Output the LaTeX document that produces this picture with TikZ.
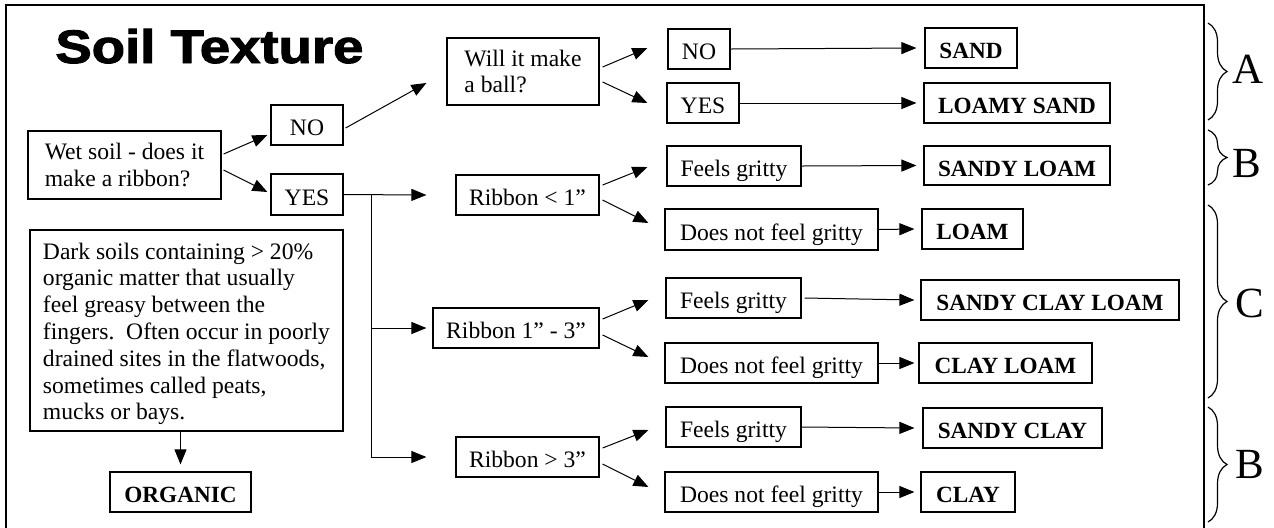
\documentclass[tikz,border=0pt]{standalone}
\usepackage{fontspec}
\usepackage{graphicx}
\setmainfont{Liberation Serif}
\newfontfamily\titlefont[FakeBold=2]{Liberation Sans}
\usetikzlibrary{arrows.meta,calc,decorations.pathreplacing}
\tikzset{
  box/.style={draw, line width=0.6pt, inner sep=0pt, font=\fontsize{11.8}{13.4}\selectfont},
  one/.style={text height=10.6pt, text depth=0pt},
  res/.style={draw, line width=0.6pt, inner sep=0pt, text height=10.6pt, text depth=0pt, font=\fontsize{11.6}{13.4}\selectfont\bfseries},
  sz/.style 2 args={minimum width=#1*0.5pt, minimum height=#2*0.5pt},
  arr/.style={line width=0.5pt, -{Triangle[length=7.5pt,width=6pt]}},
  brc/.style={decorate, decoration={brace, amplitude=9.5pt}, line width=0.6pt},
  big/.style={font=\fontsize{21.5}{24}\selectfont, anchor=base west, inner sep=0pt}
}
\begin{document}
\begin{tikzpicture}[x=0.5pt,y=-0.5pt]
\useasboundingbox (0,0) rectangle (1274,527);
% frame
\draw[line width=0.9pt] (6,545) -- (6,5) -- (1204,5) -- (1204,545);
% title
\node[anchor=base west, inner sep=0pt] (title) at (55,63)
  {\fontsize{23.5}{26}\titlefont\bfseries\selectfont\scalebox{1.16}[1]{Soil Texture}};
% nodes
\node[box, sz={193}{68}, align=left] (wet) at (124.5,165) {Wet soil - does it\\make a ribbon?};
\node[box, one, sz={72}{40}] (no1) at (307,125) {NO};
\node[box, one, sz={72}{41}] (yes1) at (307,194.5) {YES};
\node[box, sz={152}{67}, align=left] (will) at (523,71.5) {Will it make\\a ball?};
\node[box, one, sz={62}{40}] (no2) at (699,49) {NO};
\node[box, one, sz={72}{40}] (yes2) at (703,103) {YES};
\node[box, one, sz={143}{40}] (rib1) at (527.5,195) {Ribbon < 1”};
\node[box, one, sz={166}{40}] (rib2) at (516,328) {Ribbon 1” - 3”};
\node[box, one, sz={143}{40}] (rib3) at (527.5,457) {Ribbon > 3”};
\node[box, one, sz={134}{40}] (fg1) at (734,166) {Feels gritty};
\node[box, one, sz={213}{41}] (nfg1) at (771.5,229.5) {Does not feel gritty};
\node[box, one, sz={135}{40}] (fg2) at (733.5,298) {Feels gritty};
\node[box, one, sz={213}{40}] (nfg2) at (771.5,363) {Does not feel gritty};
\node[box, one, sz={135}{40}] (fg3) at (733.5,427) {Feels gritty};
\node[box, one, sz={213}{40}] (nfg3) at (771.5,492) {Does not feel gritty};
\node[res, sz={92}{40}] (sand) at (971,48) {SAND};
\node[res, sz={186}{40}] (lsand) at (1017,103) {LOAMY SAND};
\node[res, sz={186}{39}] (sloam) at (1017,165.5) {SANDY LOAM};
\node[res, sz={101}{40}] (loam) at (972.5,229) {LOAM};
\node[res, sz={258}{40}] (scloam) at (1050,300) {SANDY CLAY LOAM};
\node[res, sz={173}{40}] (cloam) at (1005.5,363) {CLAY LOAM};
\node[res, sz={179}{40}] (sclay) at (1012.5,428) {SANDY CLAY};
\node[res, sz={94}{40}] (clay) at (968,492) {CLAY};
\node[box, sz={313}{201}, align=left] (dark) at (186.5,330.5)
  {\rule{0pt}{11.5pt}Dark soils containing > 20\%\\organic matter that usually\\feel greasy between the\\fingers.\ \ Often occur in poorly\\drained sites in the flatwoods,\\sometimes called peats,\\mucks or bays.};
\node[res, sz={141}{40}] (organic) at (180.5,492) {ORGANIC};
% connectors
\draw[arr] ([shift={(2,-11)}]wet.east) -- ([shift={(-3,10)}]no1.west);
\draw[arr] ([shift={(2,5)}]wet.east) -- ([shift={(-3,-2.5)}]yes1.west);
\draw[arr] ([shift={(2,3)}]no1.east) -- ([shift={(-20,11.5)}]will.west);
\draw[arr] (yes1.east) -- ([shift={(-29,0)}]rib1.west);
\coordinate (br) at ($(yes1.east)+(28,0)$);
\draw[arr] (br) |- ([shift={(-6,0)}]rib2.west);
\draw[arr] (br) |- ([shift={(-29,0)}]rib3.west);
\draw[arr] ([shift={(3,-4.5)}]will.east) -- ([shift={(-20,-1)}]no2.west);
\draw[arr] ([shift={(3,10.5)}]will.east) -- ([shift={(-19,0)}]yes2.west);
\draw[arr] (no2.east) -- ([shift={(-8,0)}]sand.west);
\draw[arr] (yes2.east) -- ([shift={(-7,0)}]lsand.west);
\draw[arr] ([shift={(3,-10)}]rib1.east) -- ([shift={(-19,1)}]fg1.west);
\draw[arr] ([shift={(3,5)}]rib1.east) -- ([shift={(-16,-6.5)}]nfg1.west);
\draw[arr] (fg1.east) -- ([shift={(-7,0)}]sloam.west);
\draw[arr] (nfg1.east) -- ([shift={(-7,0)}]loam.west);
\draw[arr] ([shift={(3,-9)}]rib2.east) -- ([shift={(-17,2)}]fg2.west);
\draw[arr] ([shift={(3,7)}]rib2.east) -- ([shift={(-16,-6)}]nfg2.west);
\draw[arr] ([shift={(3,0)}]fg2.east) -- ([shift={(-6,0)}]scloam.west);
\draw[arr] (nfg2.east) -- ([shift={(-4,0)}]cloam.west);
\draw[arr] ([shift={(3,-9)}]rib3.east) -- ([shift={(-17,3)}]fg3.west);
\draw[arr] ([shift={(3,7)}]rib3.east) -- ([shift={(-16,-5)}]nfg3.west);
\draw[arr] (fg3.east) -- ([shift={(-8,0)}]sclay.west);
\draw[arr] (nfg3.east) -- ([shift={(-6,0)}]clay.west);
\draw[arr] (dark.south -| organic.north) -- ([shift={(0,-7)}]organic.north);
% braces
\draw[brc] (1208,23) -- (1208,120);
\draw[brc] (1208,130) -- (1208,185);
\draw[brc] (1208,205) -- (1208,398);
\draw[brc] (1208,407) -- (1208,522);
\node[big] (lA) at (1232,83) {A};
\node[big] (lB1) at (1232,177) {B};
\node[big] (lC) at (1235,317) {C};
\node[big] (lB2) at (1235,478) {B};
\end{tikzpicture}
\end{document}
